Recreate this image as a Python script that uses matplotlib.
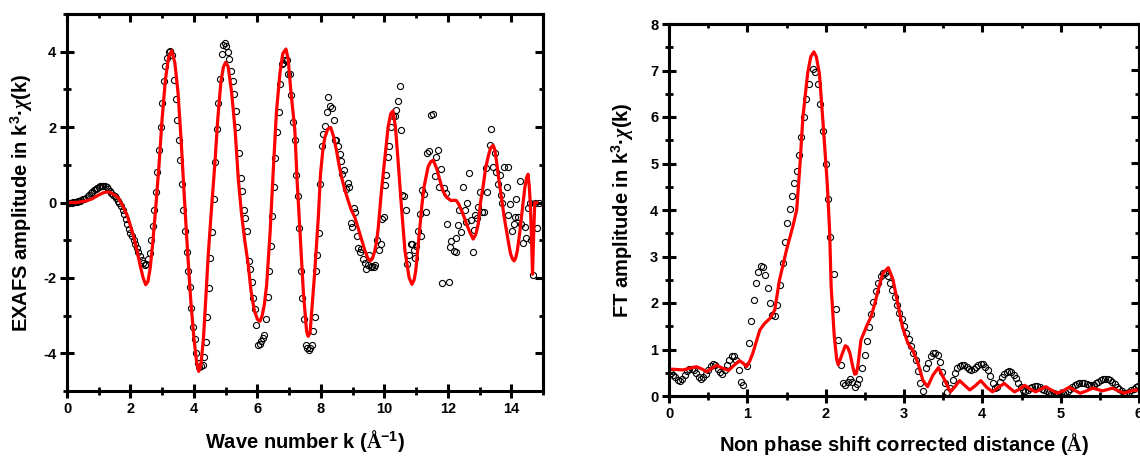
import numpy as np
import matplotlib.pyplot as plt
from matplotlib.ticker import MultipleLocator

plt.rcParams['font.family'] = 'Liberation Sans'
plt.rcParams['font.weight'] = 'bold'
plt.rcParams['axes.labelweight'] = 'bold'
plt.rcParams['axes.unicode_minus'] = False
plt.rcParams['mathtext.fontset'] = 'custom'
plt.rcParams['mathtext.rm'] = 'Liberation Sans:bold'
plt.rcParams['mathtext.it'] = 'Liberation Serif:italic'
plt.rcParams['mathtext.sf'] = 'Liberation Serif'

# EXAFS k^3 chi(k): measured points and fitted curve
k_data = [0.0, 0.05, 0.1, 0.15, 0.2, 0.25, 0.3, 0.35, 0.4, 0.45, 0.5, 0.55, 0.6, 0.65, 0.7,
          0.75, 0.8, 0.85, 0.9, 0.95, 1.0, 1.05, 1.1, 1.15, 1.2, 1.25, 1.3, 1.35, 1.4, 1.45,
          1.5, 1.55, 1.6, 1.65, 1.7, 1.75, 1.8, 1.85, 1.9, 1.95, 2.0, 2.05, 2.1, 2.15, 2.2,
          2.25, 2.3, 2.35, 2.4, 2.45, 2.5, 2.55, 2.6, 2.65, 2.7, 2.75, 2.8, 2.85, 2.9, 2.95,
          3.0, 3.05, 3.1, 3.15, 3.2, 3.25, 3.3, 3.37, 3.42, 3.47, 3.52, 3.57, 3.62, 3.67, 3.72,
          3.77, 3.82, 3.87, 3.92, 3.97, 4.02, 4.07, 4.12, 4.17, 4.22, 4.27, 4.32, 4.37, 4.42,
          4.47, 4.52, 4.57, 4.62, 4.67, 4.72, 4.77, 4.82, 4.87, 4.92, 4.97, 5.02, 5.07, 5.12,
          5.17, 5.22, 5.27, 5.32, 5.37, 5.42, 5.47, 5.52, 5.57, 5.62, 5.67, 5.72, 5.77, 5.82,
          5.87, 5.92, 5.97, 6.02, 6.07, 6.12, 6.17, 6.22, 6.27, 6.32, 6.37, 6.42, 6.47, 6.52,
          6.57, 6.62, 6.67, 6.72, 6.77, 6.82, 6.87, 6.92, 6.97, 7.02, 7.07, 7.12, 7.17, 7.22,
          7.27, 7.32, 7.37, 7.42, 7.47, 7.52, 7.57, 7.62, 7.67, 7.72, 7.76, 7.8, 7.84, 7.88,
          7.93, 7.97, 8.02, 8.07, 8.13, 8.18, 8.23, 8.28, 8.34, 8.4, 8.44, 8.49, 8.55, 8.59,
          8.62, 8.68, 8.73, 8.79, 8.84, 8.9, 8.94, 8.99, 9.05, 9.09, 9.13, 9.18, 9.22, 9.28,
          9.33, 9.38, 9.42, 9.47, 9.52, 9.57, 9.62, 9.67, 9.72, 9.77, 9.83, 9.88, 9.94, 9.98,
          10.03, 10.06, 10.1, 10.15, 10.2, 10.26, 10.33, 10.38, 10.43, 10.49, 10.54, 10.57,
          10.63, 10.68, 10.73, 10.78, 10.83, 10.87, 10.92, 10.96, 11.01, 11.07, 11.12, 11.17,
          11.2, 11.25, 11.3, 11.35, 11.4, 11.46, 11.52, 11.59, 11.64, 11.68, 11.72, 11.78,
          11.82, 11.89, 11.94, 11.98, 12.03, 12.06, 12.11, 12.2, 12.25, 12.27, 12.33, 12.36,
          12.43, 12.48, 12.54, 12.57, 12.62, 12.67, 12.72, 12.78, 12.82, 12.86, 12.92, 12.95,
          13.03, 13.08, 13.14, 13.19, 13.24, 13.32, 13.37, 13.42, 13.48, 13.53, 13.59, 13.64,
          13.67, 13.72, 13.78, 13.86, 13.89, 13.91, 13.95, 14.03, 14.08, 14.12, 14.16, 14.22,
          14.27, 14.32, 14.37, 14.43, 14.48, 14.53, 14.58, 14.62, 14.67, 14.74, 14.8, 14.86]
chi_data = [0.0, 0.0, 0.0, 0.0, 0.01, 0.01, 0.02, 0.03, 0.04, 0.06, 0.08, 0.1, 0.13, 0.16, 0.2,
            0.24, 0.28, 0.32, 0.36, 0.39, 0.42, 0.44, 0.45, 0.45, 0.43, 0.4, 0.36, 0.31, 0.26, 0.21,
            0.16, 0.11, 0.05, -0.02, -0.1, -0.2, -0.31, -0.43, -0.56, -0.69, -0.8, -0.9, -1.0, -1.1, -1.21,
            -1.32, -1.42, -1.52, -1.6, -1.65, -1.62, -1.5, -1.33, -1.0, -0.62, -0.2, 0.27, 0.81, 1.39, 2.01,
            2.63, 3.21, 3.61, 3.83, 4.0, 4.02, 3.92, 3.25, 2.74, 2.2, 1.65, 1.12, 0.5, -0.19, -0.75,
            -1.3, -1.81, -2.24, -2.81, -3.31, -3.62, -4.0, -4.26, -4.37, -4.35, -4.3, -4.1, -3.7, -3.04,
            -2.26, -1.46, -0.78, 0.1, 1.08, 1.95, 2.65, 3.28, 3.94, 4.17, 4.23, 4.14, 3.99, 3.81,
            3.48, 3.21, 2.87, 2.43, 2.01, 1.32, 0.66, 0.3, -0.21, -0.42, -0.75, -1.55, -1.76, -2.1,
            -2.52, -2.82, -3.26, -3.77, -3.75, -3.68, -3.6, -3.51, -3.1, -2.51, -1.81, -1.15, -0.35, 0.41,
            1.19, 1.88, 2.41, 3.14, 3.67, 3.7, 3.79, 3.79, 3.4, 3.4, 2.85, 2.14, 1.65, 0.74,
            0.16, -0.68, -1.81, -2.52, -3.1, -3.77, -3.85, -3.9, -3.85, -3.78, -3.41, -3.03, -1.83, -1.4,
            -0.82, 0.5, 1.49, 1.83, 2.03, 2.41, 2.81, 2.56, 2.5, 2.2, 1.65, 1.65, 1.49, 1.28,
            1.09, 0.75, 0.87, 0.35, 0.52, 0.4, -0.55, -0.66, -0.15, -0.25, -0.88, -1.2, -1.32, -1.23,
            -1.5, -1.6, -1.77, -1.65, -1.39, -1.72, -1.68, -1.7, -1.65, -1.0, -1.25, -1.1, -0.44, -0.38,
            0.47, 0.74, 1.21, 1.49, 2.01, 2.3, 2.3, 2.45, 2.68, 3.09, 1.92, 0.2,
            0.18, -0.19, -1.64, -1.39, -1.1, -1.09, -1.26, -1.46, -1.16, -0.76, -0.3, -0.9,
            0.32, 0.23, -0.25, 1.3, 1.37, 2.32, 2.34, 0.7, 1.21, 1.4, 0.41, 0.9,
            -2.14, 0.38, 0.26, -0.57, -2.11, -1.19, -1.01, -1.28, -1.3, -0.95, -0.6, -0.19,
            -0.79, 0.41, -0.21, -0.52, 0.0, 0.79, -0.47, -1.3, -0.72, -0.33, -0.42, -0.13,
            0.29, -0.26, -0.26, 0.92, 0.29, 1.52, 1.95, 0.94, 1.3, 0.81, 0.5, 0.72,
            0.21, -0.02, 0.94, 0.41, -0.32, 0.94, -0.03, -0.75, -0.57, -0.39, 0.08, -0.39,
            0.57, -0.57, -1.08, -0.66, -0.93, -0.15, 0.0, -0.99, -1.92, 0.0, -0.68, 0.0]

k_fit = [0.0, 0.3, 0.6, 0.8, 1.0, 1.15, 1.25, 1.35, 1.5, 1.62, 1.75, 1.9, 2.0, 2.1, 2.2, 2.3,
         2.4, 2.48, 2.55, 2.62, 2.7, 2.8, 2.9, 3.0, 3.1, 3.2, 3.3, 3.4, 3.5, 3.6, 3.7, 3.8,
         3.9, 4.0, 4.08, 4.15, 4.22, 4.3, 4.35, 4.45, 4.55, 4.66, 4.75, 4.85, 4.93, 5.0, 5.08,
         5.19, 5.3, 5.4, 5.5, 5.6, 5.71, 5.8, 5.9, 6.0, 6.08, 6.15, 6.22, 6.29, 6.4, 6.5, 6.6,
         6.71, 6.8, 6.9, 6.97, 7.05, 7.18, 7.25, 7.34, 7.45, 7.55, 7.6, 7.66, 7.72, 7.81, 7.92,
         7.99, 8.07, 8.13, 8.22, 8.31, 8.4, 8.49, 8.57, 8.65, 8.75, 8.86, 8.96, 9.07, 9.23, 9.39,
         9.48, 9.56, 9.63, 9.7, 9.76, 9.81, 9.91, 10.02, 10.12, 10.2, 10.27, 10.35, 10.44, 10.54,
         10.65, 10.78, 10.87, 10.94, 10.99, 11.06, 11.12, 11.18, 11.25, 11.38, 11.46, 11.54,
         11.65, 11.75, 11.85, 11.96, 12.05, 12.11, 12.2, 12.27, 12.35, 12.43, 12.52, 12.59,
         12.7, 12.8, 12.88, 12.96, 13.03, 13.11, 13.19, 13.27, 13.35, 13.43, 13.48, 13.53,
         13.61, 13.69, 13.77, 13.85, 13.92, 13.98, 14.04, 14.09, 14.14, 14.19, 14.26, 14.32,
         14.38, 14.43, 14.48, 14.53, 14.57, 14.6, 14.64, 14.67, 14.7, 14.74, 14.8]
chi_fit = [0.0, 0.0, 0.04, 0.1, 0.2, 0.26, 0.28, 0.27, 0.2, 0.12, -0.08, -0.35, -0.62, -0.9, -1.25, -1.65,
           -2.0, -2.18, -2.1, -1.75, -1.1, -0.1, 1.0, 2.25, 3.25, 3.85, 4.03, 3.7, 2.9, 1.6, 0.1, -1.3,
           -2.6, -3.6, -4.2, -4.48, -4.3, -3.6, -2.9, -1.4, -0.2, 1.03, 2.2, 3.2, 3.6, 3.72, 3.6,
           2.9, 1.9, 0.6, -0.3, -1.0, -1.64, -2.35, -2.85, -3.1, -3.15, -3.0, -2.7, -2.2, -0.8, 0.85, 2.4,
           3.43, 3.95, 4.07, 3.8, 3.0, 1.92, 0.6, -0.75, -2.4, -3.41, -3.55, -3.45, -2.8, -1.81, -0.39,
           0.77, 1.45, 1.74, 1.95, 1.99, 1.75, 1.39, 1.0, 0.68, 0.35, 0.05, -0.2, -0.39, -0.84, -1.28,
           -1.48, -1.55, -1.48, -1.28, -1.0, -0.66, 0.32, 1.21, 2.01, 2.35, 2.43, 2.01, 1.03, -0.12,
           -1.28, -1.99, -2.17, -2.05, -1.81, -1.2, -0.66, -0.1, 0.41, 0.95, 1.08, 1.12,
           0.9, 0.59, 0.3, 0.14, 0.08, 0.05, 0.06, 0.05, -0.05, -0.21, -0.4, -0.57,
           -0.8, -0.97, -0.85, -0.57, 0.0, 0.41, 0.9, 1.21, 1.45, 1.52, 1.4, 1.12,
           0.6, 0.14, -0.35, -0.75, -1.1, -1.37, -1.5, -1.55, -1.47, -1.28, -0.85, -0.39,
           0.05, 0.41, 0.65, 0.75, 0.4, -0.04, -1.0, -1.9, -1.0, 0.0, 0.0]

# Fourier transform magnitude: measured points and fitted curve
r_data = [0.02, 0.05, 0.08, 0.11, 0.14, 0.17, 0.2, 0.23, 0.26, 0.29, 0.32, 0.35, 0.38, 0.41, 0.44,
          0.47, 0.5, 0.53, 0.56, 0.59, 0.62, 0.65, 0.68, 0.71, 0.74, 0.77, 0.8, 0.83, 0.86, 0.89,
          0.92, 0.95, 0.99, 1.02, 1.05, 1.08, 1.11, 1.14, 1.17, 1.2, 1.23, 1.26, 1.29, 1.32, 1.35,
          1.38, 1.42, 1.45, 1.48, 1.51, 1.54, 1.57, 1.6, 1.63, 1.66, 1.69, 1.72, 1.75, 1.79, 1.84,
          1.87, 1.9, 1.93, 1.97, 2.0, 2.03, 2.06, 2.1, 2.13, 2.16, 2.19, 2.22, 2.25, 2.28, 2.31,
          2.34, 2.37, 2.4, 2.43, 2.46, 2.5, 2.53, 2.55, 2.58, 2.61, 2.64, 2.67, 2.7, 2.73, 2.76,
          2.79, 2.82, 2.85, 2.88, 2.91, 2.94, 2.97, 3.0, 3.03, 3.06, 3.09, 3.12, 3.15, 3.18, 3.21,
          3.24, 3.28, 3.31, 3.34, 3.37, 3.4, 3.43, 3.46, 3.49, 3.52, 3.55, 3.59, 3.62, 3.65, 3.68,
          3.71, 3.74, 3.77, 3.8, 3.83, 3.86, 3.89, 3.92, 3.95, 3.98, 4.01, 4.04, 4.07, 4.1, 4.13,
          4.16, 4.19, 4.22, 4.25, 4.28, 4.31, 4.34, 4.37, 4.4, 4.43, 4.46, 4.49, 4.52, 4.55, 4.58,
          4.61, 4.64, 4.67, 4.7, 4.73, 4.76, 4.79, 4.82, 4.85, 4.88, 4.91, 4.94, 4.97, 5.0, 5.03,
          5.06, 5.09, 5.12, 5.15, 5.18, 5.21, 5.24, 5.27, 5.3, 5.33, 5.36, 5.39, 5.42, 5.45, 5.48,
          5.51, 5.54, 5.57, 5.6, 5.63, 5.66, 5.69, 5.72, 5.75, 5.78, 5.81, 5.84, 5.87, 5.9, 5.93,
          5.96, 5.99]
ft_data = [0.5, 0.45, 0.41, 0.34, 0.33, 0.36, 0.45, 0.53, 0.58, 0.59, 0.55, 0.49, 0.41, 0.36, 0.4,
           0.47, 0.56, 0.64, 0.69, 0.66, 0.58, 0.51, 0.48, 0.55, 0.66, 0.77, 0.85, 0.86, 0.77, 0.56,
           0.3, 0.24, 0.65, 1.13, 1.62, 2.06, 2.42, 2.67, 2.8, 2.78, 2.6, 2.33, 2.0, 1.75, 1.71,
           1.96, 2.39, 2.85, 3.32, 3.72, 4.03, 4.3, 4.57, 4.84, 5.19, 5.57, 5.99, 6.38, 6.71, 7.04,
           6.97, 6.7, 6.27, 5.7, 5.0, 4.23, 3.41, 2.62, 1.87, 1.21, 0.67, 0.29, 0.23, 0.31, 0.36,
           0.3, 0.19, 0.25, 0.36, 0.61, 0.88, 1.19, 1.48, 1.76, 2.03, 2.26, 2.44, 2.57, 2.64, 2.64,
           2.57, 2.44, 2.29, 2.12, 1.95, 1.79, 1.65, 1.5, 1.36, 1.23, 1.07, 0.93, 0.78, 0.53, 0.28,
           0.1, 0.6, 0.72, 0.85, 0.92, 0.93, 0.88, 0.74, 0.52, 0.27, 0.08, 0.17, 0.35, 0.49, 0.6,
           0.65, 0.67, 0.66, 0.62, 0.57, 0.55, 0.58, 0.63, 0.67, 0.69, 0.68, 0.63, 0.55, 0.43, 0.29,
           0.17, 0.19, 0.3, 0.41, 0.48, 0.52, 0.53, 0.51, 0.46, 0.38, 0.29, 0.2, 0.13, 0.1, 0.12,
           0.17, 0.2, 0.21, 0.21, 0.19, 0.15, 0.12, 0.1, 0.08, 0.07, 0.06, 0.05, 0.05, 0.05, 0.06,
           0.08, 0.11, 0.15, 0.19, 0.23, 0.26, 0.27, 0.28, 0.27, 0.26, 0.24, 0.23, 0.24, 0.27, 0.31,
           0.34, 0.36, 0.37, 0.37, 0.35, 0.31, 0.26, 0.2, 0.14, 0.1, 0.07, 0.06, 0.08, 0.12, 0.16,
           0.19, 0.21]

r_fit = [0.0, 0.1, 0.18, 0.27, 0.35, 0.42, 0.48, 0.55, 0.61, 0.68, 0.76, 0.83, 0.9, 0.95, 0.99,
         1.03, 1.07, 1.12, 1.16, 1.22, 1.29, 1.35, 1.41, 1.5, 1.58, 1.63, 1.67, 1.71, 1.77, 1.81,
         1.85, 1.88, 1.92, 1.97, 2.02, 2.05, 2.07, 2.11, 2.14, 2.16, 2.21, 2.25, 2.28, 2.31, 2.35,
         2.37, 2.39, 2.41, 2.45, 2.52, 2.58, 2.63, 2.67, 2.73, 2.8, 2.86, 2.92, 2.98, 3.05, 3.11,
         3.18, 3.24, 3.3, 3.37, 3.44, 3.52, 3.59, 3.65, 3.71, 3.78, 3.84, 3.91, 3.98, 4.06, 4.13,
         4.2, 4.28, 4.35, 4.41, 4.48, 4.54, 4.61, 4.68, 4.75, 4.81, 4.89, 4.96, 5.04, 5.11, 5.18,
         5.25, 5.33, 5.41, 5.47, 5.53, 5.6, 5.66, 5.74, 5.81, 5.88, 5.96, 6.0]
ft_fit = [0.58, 0.57, 0.56, 0.6, 0.63, 0.58, 0.52, 0.6, 0.66, 0.6, 0.55, 0.66, 0.76, 0.7, 0.63,
          0.75, 0.92, 1.2, 1.42, 1.56, 1.67, 1.85, 2.49, 3.14, 3.64, 4.0, 4.93, 6.01, 6.94, 7.3,
          7.4, 7.3, 6.94, 5.79, 4.57, 3.57, 2.35, 1.28, 0.8, 0.67, 0.9, 1.08, 1.05, 0.92, 0.6,
          0.47, 0.48, 0.63, 1.2, 1.49, 1.71, 2.0, 2.28, 2.64, 2.76, 2.5, 1.99, 1.49, 1.13, 0.99,
          0.7, 0.34, 0.2, 0.45, 0.61, 0.34, 0.09, 0.2, 0.33, 0.22, 0.13, 0.22, 0.33, 0.18, 0.09,
          0.18, 0.27, 0.17, 0.09, 0.15, 0.23, 0.15, 0.09, 0.15, 0.2, 0.12, 0.06, 0.12, 0.19, 0.12,
          0.06, 0.11, 0.17, 0.14, 0.11, 0.14, 0.17, 0.11, 0.06, 0.1, 0.13, 0.12]

W, H = 1140, 459
fig = plt.figure(figsize=(W / 100, H / 100), dpi=100)
ax1 = fig.add_axes([67 / W, 1 - 391 / H, (543 - 67) / W, (391 - 14) / H])
ax2 = fig.add_axes([669 / W, 1 - 396 / H, (1139 - 669) / W, (396 - 24) / H])

circ = dict(ls='none', marker='o', mfc='none', mec='black', ms=4.4, mew=0.8)
ax1.plot(k_data, chi_data, **circ)
ax1.plot(k_fit, chi_fit, color='red', lw=2.3)
ax2.plot(r_data, ft_data, **circ)
ax2.plot(r_fit, ft_fit, color='red', lw=2.3)


def style(ax, xlim, ylim, xmaj, xmin, ymaj, ymin):
    ax.set_xlim(*xlim)
    ax.set_ylim(*ylim)
    ax.xaxis.set_major_locator(MultipleLocator(xmaj))
    ax.xaxis.set_minor_locator(MultipleLocator(xmin))
    ax.yaxis.set_major_locator(MultipleLocator(ymaj))
    ax.yaxis.set_minor_locator(MultipleLocator(ymin))
    for s in ax.spines.values():
        s.set_linewidth(2.2)
    ax.tick_params(which='major', direction='inout', length=10.5, width=2.2,
                   labelsize=10.5, pad=2.5)
    ax.tick_params(which='minor', direction='inout', length=5.5, width=2.0)
    plt.setp(ax.get_xticklabels() + ax.get_yticklabels(), fontweight='heavy')
    # mirrored ticks on top and right point inward only
    top = ax.secondary_xaxis('top')
    top.xaxis.set_major_locator(MultipleLocator(xmaj))
    top.xaxis.set_minor_locator(MultipleLocator(xmin))
    top.tick_params(which='major', direction='in', length=5.5, width=2.2, labeltop=False)
    top.tick_params(which='minor', direction='in', length=3, width=2.0)
    top.spines['top'].set_linewidth(2.2)
    right = ax.secondary_yaxis('right')
    right.yaxis.set_major_locator(MultipleLocator(ymaj))
    right.yaxis.set_minor_locator(MultipleLocator(ymin))
    right.tick_params(which='major', direction='in', length=5.5, width=2.2, labelright=False)
    right.tick_params(which='minor', direction='in', length=3, width=2.0)
    right.spines['right'].set_linewidth(2.2)


style(ax1, (0, 15), (-5, 5), 2, 1, 2, 1)
style(ax2, (0, 6), (0, 8), 1, 0.5, 1, 0.5)

ax1.set_xlabel(r'Wave number k ($\mathsf{\AA}^{-1}$)', fontsize=14.5, fontweight='bold', labelpad=9)
ax1.set_ylabel(r'EXAFS amplitude in k$^{3}$·$\chi$(k)', fontsize=14.5, fontweight='bold', labelpad=6)
ax2.set_xlabel(r'Non phase shift corrected distance ($\mathsf{\AA}$)', fontsize=14.5,
               fontweight='bold', labelpad=7.5)
ax2.set_ylabel(r'FT amplitude in k$^{3}$·$\chi$(k)', fontsize=14.5, fontweight='bold', labelpad=10)

fig.savefig('out.png', dpi=100)
